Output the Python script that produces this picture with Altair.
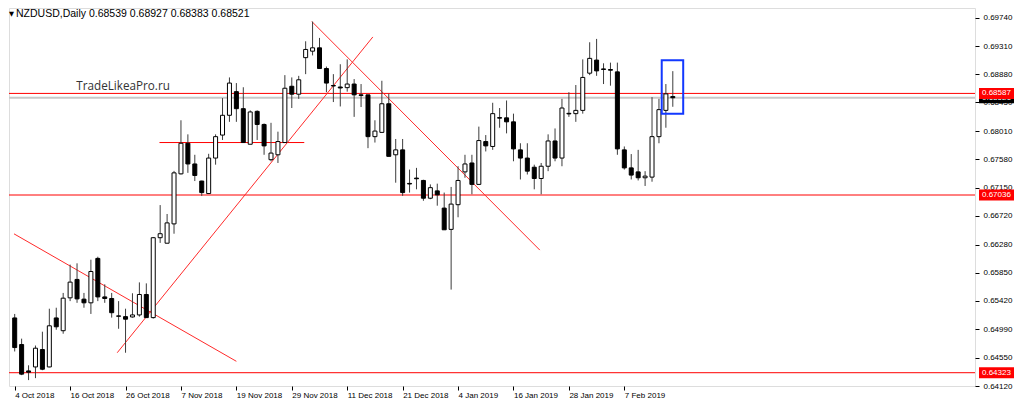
import altair as alt
import pandas as pd

# ---------------- data (NZDUSD daily) ----------------
opens = [0.65159, 0.64753, 0.64350, 0.64411, 0.64677, 0.64411, 0.65159, 0.64964, 0.65466, 0.65747,
         0.65446, 0.65390, 0.66068, 0.65480, 0.65456, 0.65190, 0.65179, 0.65174, 0.65205, 0.65517,
         0.65164, 0.66384, 0.66300, 0.66595, 0.67359, 0.67826, 0.67510, 0.67249, 0.67058, 0.67600,
         0.67951, 0.68253, 0.68614, 0.68354, 0.67811, 0.68313, 0.68113, 0.67575, 0.67650, 0.67837,
         0.68696, 0.68575, 0.69133, 0.69232, 0.69283, 0.68967, 0.68708, 0.68685, 0.68675, 0.68730,
         0.68565, 0.68565, 0.67927, 0.67992, 0.68429, 0.67650, 0.67725, 0.67213, 0.67294, 0.67258,
         0.66987, 0.67099, 0.66836, 0.66511, 0.66888, 0.67389, 0.67525, 0.67198, 0.67852, 0.67777,
         0.68218, 0.68214, 0.68153, 0.67725, 0.67600, 0.67460, 0.67288, 0.67475, 0.67861, 0.67600,
         0.68283, 0.68278, 0.68328, 0.68896, 0.69096, 0.68961, 0.68952, 0.68916, 0.67725, 0.67450,
         0.67389, 0.67299, 0.67309, 0.67927, 0.68328, 0.68539]
highs = [0.65220, 0.64843, 0.64436, 0.64738, 0.64949, 0.65300, 0.65315, 0.65541, 0.65973, 0.65993,
         0.65541, 0.66048, 0.66094, 0.65672, 0.65541, 0.65416, 0.65300, 0.65536, 0.65702, 0.65687,
         0.66395, 0.66882, 0.66746, 0.67404, 0.68177, 0.67962, 0.67650, 0.67254, 0.67665, 0.67962,
         0.68515, 0.68831, 0.68745, 0.68681, 0.68328, 0.68328, 0.68128, 0.68138, 0.68003, 0.68866,
         0.68831, 0.68855, 0.69383, 0.69684, 0.69434, 0.68997, 0.68881, 0.69032, 0.69107, 0.68806,
         0.68730, 0.68565, 0.68177, 0.68780, 0.68580, 0.67891, 0.67891, 0.67424, 0.67450, 0.67269,
         0.67198, 0.67209, 0.67073, 0.67159, 0.67475, 0.67650, 0.67650, 0.68080, 0.67951, 0.68444,
         0.68364, 0.68479, 0.68278, 0.67826, 0.67826, 0.67499, 0.67525, 0.67962, 0.68052, 0.68504,
         0.68605, 0.68715, 0.69107, 0.69368, 0.69419, 0.69047, 0.69057, 0.69057, 0.67777, 0.67661,
         0.67725, 0.67400, 0.68530, 0.68504, 0.68730, 0.68927]
lows = [0.64647, 0.64286, 0.64210, 0.64240, 0.64361, 0.64406, 0.64979, 0.64918, 0.65416, 0.65390,
        0.65315, 0.65220, 0.65416, 0.65390, 0.65164, 0.64994, 0.64628, 0.65164, 0.65179, 0.65159,
        0.65149, 0.66305, 0.66300, 0.66445, 0.67349, 0.67374, 0.67249, 0.67023, 0.67058, 0.67499,
        0.67876, 0.68153, 0.68153, 0.67837, 0.67811, 0.67876, 0.67650, 0.67551, 0.67525, 0.67837,
        0.68364, 0.68504, 0.68881, 0.69167, 0.68967, 0.68605, 0.68455, 0.68388, 0.68614, 0.68229,
        0.68379, 0.67751, 0.67837, 0.67992, 0.67626, 0.67224, 0.67023, 0.67073, 0.67123, 0.66948,
        0.66972, 0.66873, 0.66505, 0.65592, 0.66696, 0.67299, 0.67047, 0.67198, 0.67701, 0.67725,
        0.68063, 0.67977, 0.67551, 0.67273, 0.67349, 0.67123, 0.67047, 0.67400, 0.67551, 0.67475,
        0.68229, 0.68153, 0.68278, 0.68866, 0.68855, 0.68730, 0.68705, 0.67650, 0.67424, 0.67273,
        0.67258, 0.67174, 0.67239, 0.67826, 0.68063, 0.68383]
closes = [0.64707, 0.64301, 0.64331, 0.64697, 0.64376, 0.65039, 0.65024, 0.65461, 0.65706, 0.65450,
          0.65390, 0.65868, 0.65480, 0.65456, 0.65239, 0.65185, 0.65140, 0.65205, 0.65517, 0.65164,
          0.66384, 0.66445, 0.66610, 0.67374, 0.67826, 0.67510, 0.67334, 0.67073, 0.67600, 0.67927,
          0.68253, 0.68745, 0.68354, 0.67837, 0.68304, 0.68113, 0.67786, 0.67676, 0.67852, 0.68666,
          0.68575, 0.68795, 0.69258, 0.69283, 0.68967, 0.68745, 0.68700, 0.68670, 0.68730, 0.68565,
          0.68557, 0.67927, 0.68012, 0.68429, 0.67626, 0.67725, 0.67073, 0.67204, 0.67284, 0.66987,
          0.67148, 0.67038, 0.66505, 0.66897, 0.67258, 0.67510, 0.67198, 0.67867, 0.67786, 0.68278,
          0.68209, 0.68153, 0.67740, 0.67600, 0.67400, 0.67288, 0.67475, 0.67861, 0.67600, 0.68364,
          0.68274, 0.68328, 0.68831, 0.69122, 0.68931, 0.68952, 0.68941, 0.67740, 0.67450, 0.67340,
          0.67299, 0.67324, 0.67927, 0.68339, 0.68580, 0.68521]

# axis labels
xtick_pos = [0, 8, 16, 24, 32, 40, 48, 56, 64, 72, 80, 88]
xtick_labels = ["4 Oct 2018", "16 Oct 2018", "26 Oct 2018", "7 Nov 2018", "19 Nov 2018",
                "29 Nov 2018", "11 Dec 2018", "21 Dec 2018", "4 Jan 2019", "16 Jan 2019",
                "28 Jan 2019", "7 Feb 2019"]
ytick_vals = [0.69740, 0.69310, 0.68880, 0.68450, 0.68010, 0.67580, 0.67150, 0.66720,
              0.66280, 0.65850, 0.65420, 0.64990, 0.64550, 0.64120]

# horizontal levels
level_prices = [0.68587, 0.67036, 0.64323]
bid_price = 0.68521
short_level = {"x": [20.9], "x2": [41.8], "y": [0.67837]}

# trend lines (bar index, price)
trend_x = [-0.1, 14.8, 42.9]
trend_y = [0.66443, 0.64628, 0.69684]
trend_x2 = [32.0, 51.7, 75.8]
trend_y2 = [0.64497, 0.69449, 0.66195]

# highlight box
box = {"x": [93.4], "x2": [96.5], "y": [0.68278], "y2": [0.69092]}

symbol = "NZDUSD,Daily"
watermark = "TradeLikeaPro.ru"

# ---------------- chart ----------------
W, H = 966, 378
FONT = "Liberation Sans"

df = pd.DataFrame({"idx": list(range(len(opens))), "open": opens, "high": highs,
                   "low": lows, "close": closes})
df["body_lo"] = df[["open", "close"]].min(axis=1)
df["body_hi"] = df[["open", "close"]].max(axis=1)

xscale = alt.Scale(domain=[-0.1, -0.1 + W / 7.0], nice=False, zero=False)
yscale = alt.Scale(domain=[0.64120, 0.69891], nice=False, zero=False)

labels_js = "[" + ",".join("'%s'" % s for s in xtick_labels) + "]"
pos_js = "[" + ",".join(str(p) for p in xtick_pos) + "]"
xaxis = alt.Axis(values=xtick_pos, labelExpr=f"{labels_js}[indexof({pos_js}, datum.value)]",
                 labelAlign="left", tickSize=4, tickColor="black", labelPadding=1,
                 labelFontSize=8, labelFont=FONT, labelColor="black", domain=False, grid=False,
                 title=None, labelFlush=False, labelOverlap=False)
yaxis = alt.Axis(orient="right", values=ytick_vals, format=".5f", tickSize=4, tickColor="black",
                 labelPadding=4, labelFontSize=8, labelFont=FONT, labelColor="black",
                 domain=False, grid=False, title=None, labelOverlap=False, labelFlush=False)


def X(field):
    return alt.X(field, type="quantitative", scale=xscale, axis=xaxis)


def Y(field):
    return alt.Y(field, type="quantitative", scale=yscale, axis=yaxis)


bid_df = pd.DataFrame({"p": [bid_price]})
bid_line = alt.Chart(bid_df).mark_rule(color="#c8c8c8", strokeWidth=2).encode(y=Y("p"))

lev_df = pd.DataFrame({"p": level_prices})
levels = alt.Chart(lev_df).mark_rule(color="#ff0000", strokeWidth=1).encode(y=Y("p"))

short = alt.Chart(pd.DataFrame(short_level)).mark_rule(color="#ff0000", strokeWidth=1).encode(
    x=X("x"), x2="x2", y=Y("y"))

tr_df = pd.DataFrame({"x": trend_x, "y": trend_y, "x2": trend_x2, "y2": trend_y2})
trends = alt.Chart(tr_df).mark_rule(color="#ff2a2a", strokeWidth=1).encode(
    x=X("x"), x2="x2", y=Y("y"), y2="y2")

wicks = alt.Chart(df).mark_rule(color="#3c3c3c", strokeWidth=1).encode(
    x=X("idx"), y=Y("low"), y2="high")

bodies = alt.Chart(df).mark_bar(width=4, stroke="black", strokeWidth=1).encode(
    x=X("idx"), y=Y("body_lo"), y2="body_hi",
    fill=alt.condition("datum.close >= datum.open", alt.value("white"), alt.value("black")))

box_layer = alt.Chart(pd.DataFrame(box)).mark_rect(fill="transparent", stroke="#1238ff",
                                                   strokeWidth=2).encode(
    x=X("x"), x2="x2", y=Y("y"), y2="y2")

wm = alt.Chart(pd.DataFrame({"x": [8.9], "y": [0.68700], "t": [watermark]})).mark_text(
    align="left", baseline="middle", fontSize=11.7, font="Open Sans", color="#333333").encode(
    x=X("x"), y=Y("y"), text="t:N")

header_text = f"{symbol}  {opens[-1]:.5f} {highs[-1]:.5f} {lows[-1]:.5f} {closes[-1]:.5f}"
header = alt.Chart(pd.DataFrame({"t": [header_text]})).mark_text(
    align="left", baseline="top", font=FONT, color="black").encode(
    x=alt.value(7), y=alt.value(1), text="t:N", size=alt.value(10.5))
tri = alt.Chart(pd.DataFrame({"t": ["\u25BC"]})).mark_text(
    align="left", baseline="top", font="DejaVu Sans", color="black").encode(
    x=alt.value(0), y=alt.value(3), text="t:N", size=alt.value(6.5))

# price tags on the right scale: the bid tag first, the red level tags drawn over it
bid_tag_df = pd.DataFrame({"p": [bid_price], "t": [f"{bid_price:.5f}"]})
lvl_tag_df = pd.DataFrame({"p": level_prices, "t": [f"{v:.5f}" for v in level_prices]})


def tag_layers(data, colour):
    box_ = alt.Chart(data).mark_tick(orient="horizontal", size=35, thickness=11,
                                     color=colour, opacity=1).encode(
        x=alt.value(W + 21.5), y=Y("p"))
    txt_ = alt.Chart(data).mark_text(align="left", baseline="middle", fontSize=8, font=FONT,
                                     color="white").encode(
        x=alt.value(W + 7), y=Y("p"), text="t:N")
    return [box_, txt_]


chart = alt.layer(
    bid_line, levels, short, trends, wicks, bodies, box_layer, wm, header, tri,
    *tag_layers(bid_tag_df, "#000000"), *tag_layers(lvl_tag_df, "#ff0000")
).properties(width=W, height=H, padding=0).configure_view(
    stroke="#555555", strokeWidth=1, fill="white"
).configure(background="white")

chart.save("out.html", embed_options={"renderer": "svg", "actions": False})
